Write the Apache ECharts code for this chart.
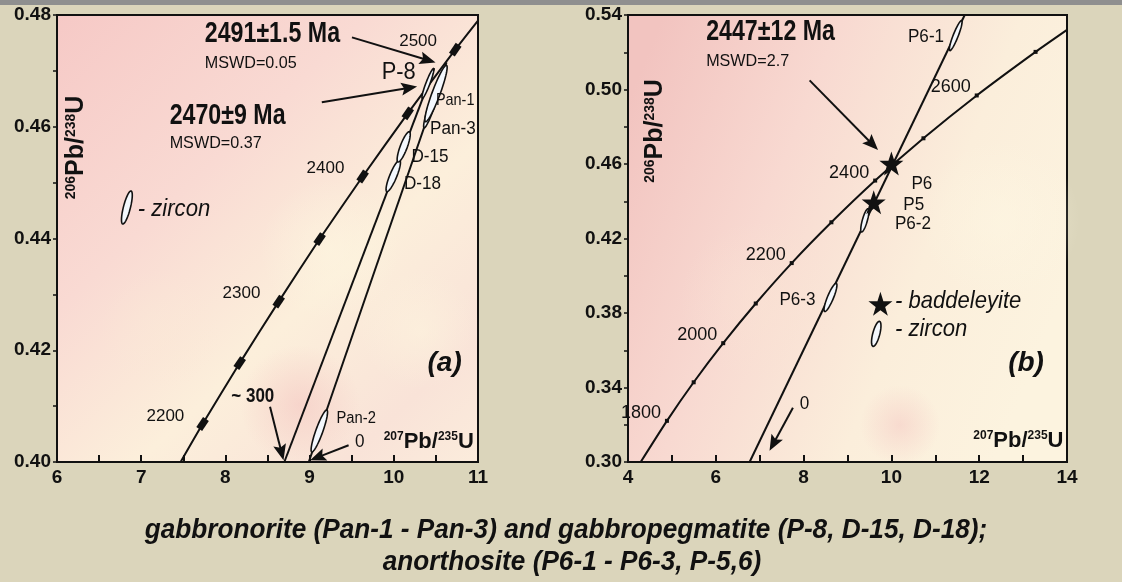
<!DOCTYPE html>
<html>
<head>
<meta charset="utf-8">
<script src="https://cdn.jsdelivr.net/npm/echarts@6/dist/echarts.min.js"></script>
<style>
  html, body { margin: 0; padding: 0; background: #dbd5bb; }
  #chart { width: 1122px; height: 582px; }
</style>
</head>
<body>
<div id="chart"></div>
<script>
// ---------- Panel (a): gabbronorite / gabbropegmatite ----------
// Concordia ticks every 50 Ma (207Pb/235U, 206Pb/238U)
const concAgesA = [2200, 2250, 2300, 2350, 2400, 2450, 2500];
const concXA = [7.729, 8.170, 8.633, 9.119, 9.630, 10.166, 10.730];
const concYA = [0.4068, 0.4177, 0.4287, 0.4399, 0.4511, 0.4624, 0.4738];
const concLabelledA = [2200, 2300, 2400, 2500];
const concEndsA = [[7.468, 0.400], [11.0, 0.479]];
// Discordia chords
const discordia2491 = [[8.99, 0.400], [10.626, 0.4715]];
const discordia2470 = [[8.70, 0.400], [10.48, 0.4705]];
// Zircon error ellipses: long-axis end points [x1, y1, x2, y2]
const zirconNamesA = ['Pan-2', 'D-18', 'D-15', 'Pan-3', 'Pan-1', 'P-8'];
const zirconAxesA = [
  [9.026, 0.4018, 9.205, 0.4093],
  [9.917, 0.4484, 10.070, 0.4540],
  [10.050, 0.4537, 10.185, 0.4591],
  [10.360, 0.4598, 10.550, 0.4682],
  [10.377, 0.4609, 10.626, 0.4710],
  [10.338, 0.4651, 10.472, 0.4704]
];

// ---------- Panel (b): anorthosite ----------
const concAgesB = [1800, 1900, 2000, 2100, 2200, 2300, 2400, 2500, 2600, 2700];
const concXB = [4.887, 5.496, 6.169, 6.910, 7.729, 8.633, 9.630, 10.730, 11.944, 13.284];
const concYB = [0.3221, 0.3428, 0.3638, 0.3851, 0.4068, 0.4287, 0.4511, 0.4738, 0.4968, 0.5202];
const concLabelledB = [1800, 2000, 2200, 2400, 2600];
const concEndsB = [[4.289, 0.300], [14.0, 0.532]];
const discordiaP6 = [[6.77, 0.300], [11.67, 0.540]];
const zirconNamesB = ['P6-3', 'P6-2', 'P6-1'];
const zirconAxesB = [
  [8.479, 0.3808, 8.745, 0.3959],
  [9.320, 0.4235, 9.470, 0.4360],
  [11.330, 0.5209, 11.600, 0.5370]
];
const baddeleyiteNames = ['P5', 'P6'];
const baddeleyiteX = [9.597, 10.000];
const baddeleyiteY = [0.4395, 0.4603];

// ---------- styling ----------
const INK = '#111';
const SANS = '"Liberation Sans", Arial, sans-serif';
const ellipseWidth = { 'Pan-2': 7, 'D-18': 7, 'D-15': 7, 'Pan-3': 6, 'Pan-1': 8, 'P-8': 4,
                       'P6-3': 6, 'P6-2': 5, 'P6-1': 5, key: 7 };
const STAR = 'path://M50,0 L61.8,35.1 L97.6,35.1 L68.8,56.7 L79.4,90.5 L50,69.6 L20.6,90.5 L31.2,56.7 L2.4,35.1 L38.2,35.1 Z';

// sx: horizontal squeeze giving the condensed lettering
const fonts = {
  big:    { font: 'bold 29px ' + SANS, sx: 0.8 },
  mswd:   { font: '17px ' + SANS, sx: 0.95 },
  sample: { font: '18px ' + SANS, sx: 0.95 },
  small:  { font: '16px ' + SANS, sx: 0.92 },
  narrow: { font: '17px ' + SANS, sx: 0.85 },
  p8:     { font: '23px ' + SANS, sx: 0.95 },
  legend: { font: 'italic 24px ' + SANS, sx: 0.92 },
  tilde:  { font: 'bold 20px ' + SANS, sx: 0.85 },
  panel:  { font: 'bold italic 28px ' + SANS, sx: 1 },
  axis:   { font: 'bold 22px ' + SANS, sx: 1,
            rich: { s: { fontSize: 12, fontWeight: 'bold', fontFamily: SANS, verticalAlign: 'top', fill: INK },
                    b: { fontSize: 22, fontWeight: 'bold', fontFamily: SANS, fill: INK } } },
  yaxis:  { font: 'bold 25px ' + SANS, sx: 1,
            rich: { s: { fontSize: 14, fontWeight: 'bold', fontFamily: SANS, verticalAlign: 'top', fill: INK },
                    b: { fontSize: 25, fontWeight: 'bold', fontFamily: SANS, fill: INK } } }
};

const X_TITLE = '{s|207}{b|Pb/}{s|235}{b|U}';
const Y_TITLE = '{s|206}{b|Pb/}{s|238}{b|U}';

const notesA = [
  { t: '2491±1.5 Ma', x: 7.755, y: 0.4766, f: 'big' },
  { t: 'MSWD=0.05', x: 7.755, y: 0.4713, f: 'mswd' },
  { t: '2470±9 Ma', x: 7.338, y: 0.4620, f: 'big' },
  { t: 'MSWD=0.37', x: 7.338, y: 0.4570, f: 'mswd' },
  { t: 'P-8', x: 10.26, y: 0.4697, f: 'p8', align: 'right' },
  { t: 'Pan-1', x: 10.50, y: 0.4647, f: 'narrow' },
  { t: 'Pan-3', x: 10.43, y: 0.4596, f: 'sample' },
  { t: 'D-15', x: 10.21, y: 0.4545, f: 'sample' },
  { t: 'D-18', x: 10.12, y: 0.4497, f: 'sample' },
  { t: '- zircon', x: 6.96, y: 0.4453, f: 'legend' },
  { t: '~ 300', x: 8.07, y: 0.4117, f: 'tilde' },
  { t: 'Pan-2', x: 9.32, y: 0.4078, f: 'small' },
  { t: '0', x: 9.54, y: 0.4035, f: 'sample' },
  { t: '(a)', x: 10.40, y: 0.4177, f: 'panel' },
  { t: X_TITLE, x: 10.95, y: 0.4036, f: 'axis', align: 'right' },
  { t: Y_TITLE, x: 6.23, y: 0.4563, f: 'yaxis', align: 'center', rot: true }
];
const notesB = [
  { t: '2447±12 Ma', x: 5.78, y: 0.5307, f: 'big' },
  { t: 'MSWD=2.7', x: 5.78, y: 0.5152, f: 'mswd' },
  { t: 'P6-1', x: 11.20, y: 0.5281, f: 'sample', align: 'right' },
  { t: 'P6', x: 10.456, y: 0.4493, f: 'sample' },
  { t: 'P5', x: 10.27, y: 0.4381, f: 'sample' },
  { t: 'P6-2', x: 10.08, y: 0.4277, f: 'sample' },
  { t: 'P6-3', x: 7.45, y: 0.3870, f: 'sample' },
  { t: '- baddeleyite', x: 10.08, y: 0.3861, f: 'legend' },
  { t: '- zircon', x: 10.08, y: 0.3710, f: 'legend' },
  { t: '(b)', x: 12.66, y: 0.3532, f: 'panel' },
  { t: '0', x: 7.91, y: 0.3309, f: 'sample' },
  { t: X_TITLE, x: 13.92, y: 0.3113, f: 'axis', align: 'right' },
  { t: Y_TITLE, x: 4.62, y: 0.4777, f: 'yaxis', align: 'center', rot: true }
];
// arrows: [fromX, fromY, tipX, tipY]
const arrowsA = [
  [9.503, 0.4760, 10.496, 0.4715],
  [9.145, 0.4644, 10.277, 0.4672],
  [8.530, 0.4099, 8.690, 0.4003],
  [9.463, 0.4030, 9.006, 0.4003]
];
const arrowsB = [
  [8.137, 0.5049, 9.696, 0.4675],
  [7.757, 0.3291, 7.224, 0.3060]
];

// ---------- renderers ----------
function ellipseRenderer(names) {
  return function (params, api) {
    const a = api.coord([api.value(0), api.value(1)]);
    const b = api.coord([api.value(2), api.value(3)]);
    const cx = (a[0] + b[0]) / 2, cy = (a[1] + b[1]) / 2;
    const dx = b[0] - a[0], dy = b[1] - a[1];
    const semi = Math.hypot(dx, dy) / 2;
    const ux = dx / (2 * semi), uy = dy / (2 * semi);
    const half = ellipseWidth[names[params.dataIndex]] / 2;
    const pts = [];
    for (let k = 0; k < 60; k++) {
      const t = (k / 60) * Math.PI * 2;
      const c = Math.cos(t) * semi, s = Math.sin(t) * half;
      pts.push([cx + c * ux - s * uy, cy + c * uy + s * ux]);
    }
    return { type: 'polygon', shape: { points: pts },
             style: { fill: '#f4f8fd', stroke: INK, lineWidth: 1.6 } };
  };
}

function arrowRenderer(params, api) {
  const p = api.coord([api.value(0), api.value(1)]);
  const q = api.coord([api.value(2), api.value(3)]);
  const L = Math.hypot(q[0] - p[0], q[1] - p[1]);
  const ux = (q[0] - p[0]) / L, uy = (q[1] - p[1]) / L;
  const head = 16, hw = 6.5;
  const bx = q[0] - ux * head, by = q[1] - uy * head;
  return { type: 'group', children: [
    { type: 'line', shape: { x1: p[0], y1: p[1], x2: bx + ux * 4, y2: by + uy * 4 },
      style: { stroke: INK, lineWidth: 2 } },
    { type: 'polygon', shape: { points: [[q[0], q[1]], [bx - uy * hw, by + ux * hw],
                                         [bx + ux * 3, by + uy * 3], [bx + uy * hw, by - ux * hw]] },
      style: { fill: INK } }
  ] };
}

function textRenderer(list) {
  return function (params, api) {
    const it = list[params.dataIndex];
    const p = api.coord([it.x, it.y]);
    const f = fonts[it.f];
    const style = { text: it.t, align: it.align || 'left', verticalAlign: 'middle',
                    fill: INK, font: f.font };
    if (f.rich) style.rich = f.rich;
    return { type: 'text', x: p[0], y: p[1], rotation: it.rot ? Math.PI / 2 : 0,
             scaleX: f.sx, style: style };
  };
}

function concordiaSeries(idx, ends, xs, ys) {
  const pts = [ends[0]].concat(xs.map((x, i) => [x, ys[i]]), [ends[1]]);
  return { type: 'line', xAxisIndex: idx, yAxisIndex: idx, data: pts, showSymbol: false,
           smooth: 0.2, lineStyle: { color: INK, width: 2 }, z: 3 };
}
function chordSeries(idx, pts) {
  return { type: 'line', xAxisIndex: idx, yAxisIndex: idx, data: pts, showSymbol: false,
           lineStyle: { color: INK, width: 2 }, z: 3 };
}
function tickSeries(idx, ages, xs, ys, labelled, size, rotate, dist, fontSize) {
  return { type: 'scatter', xAxisIndex: idx, yAxisIndex: idx, z: 4,
    symbol: 'rect', symbolSize: size, symbolRotate: rotate,
    itemStyle: { color: INK, opacity: 1 },
    data: ages.map((age, i) => ({ value: [xs[i], ys[i], age],
                                  label: { show: labelled.indexOf(age) >= 0 } })),
    label: { position: 'left', distance: dist, offset: [0, -8], color: INK,
             fontFamily: SANS, fontSize: fontSize, formatter: p => String(p.value[2]) } };
}

function xAxisCfg(idx, min, max, interval, showLabel) {
  return { type: 'value', gridIndex: idx, min: min, max: max, interval: interval, z: 3,
    axisLine: { show: true, lineStyle: { color: INK, width: 2 } },
    axisTick: { show: true, inside: true, length: 7, lineStyle: { color: INK, width: 2 } },
    axisLabel: { margin: 6, color: INK, fontFamily: SANS, fontWeight: 'bold', fontSize: 19,
                 formatter: v => showLabel(v) ? String(Math.round(v)) : '' },
    splitLine: { show: false } };
}
function yAxisCfg(idx, min, max, interval, showLabel) {
  return { type: 'value', gridIndex: idx, min: min, max: max, interval: interval, z: 3,
    axisLine: { show: true, lineStyle: { color: INK, width: 2 } },
    axisTick: { show: true, inside: false, length: 4, lineStyle: { color: INK, width: 1.5 } },
    axisLabel: { margin: 6, color: INK, fontFamily: SANS, fontWeight: 'bold', fontSize: 19,
                 formatter: v => showLabel(v) ? v.toFixed(2) : '' },
    splitLine: { show: false } };
}

const bgA = { type: 'linear', x: 0, y: 0, x2: 1, y2: 1, colorStops: [
  { offset: 0, color: '#f6c9c6' }, { offset: 0.35, color: '#f9dad3' },
  { offset: 0.62, color: '#fcefdb' }, { offset: 0.85, color: '#f9e3d8' }, { offset: 1, color: '#fbecdc' } ] };
const bgB = { type: 'linear', x: 0, y: 0.2, x2: 1, y2: 0.6, colorStops: [
  { offset: 0, color: '#f2c4c0' }, { offset: 0.35, color: '#f8d9d1' },
  { offset: 0.7, color: '#fbeedb' }, { offset: 1, color: '#fcf3df' } ] };

// soft mottling inside the plot frames
function blob(cx, cy, rx, ry, rgb, alpha) {
  return { type: 'ellipse', z: 1, silent: true,
    shape: { cx: cx, cy: cy, rx: rx, ry: ry },
    style: { fill: { type: 'radial', x: 0.5, y: 0.5, r: 0.5, colorStops: [
      { offset: 0, color: 'rgba(' + rgb + ',' + alpha + ')' },
      { offset: 1, color: 'rgba(' + rgb + ',0)' } ] } } };
}

const CAPTION_FONT = 'bold italic 27px ' + SANS;

const option = {
  animation: false,
  backgroundColor: '#dbd5bb',
  grid: [
    { left: 57, top: 15, width: 421, height: 447, show: true, backgroundColor: bgA,
      borderColor: INK, borderWidth: 2 },
    { left: 628, top: 15, width: 439, height: 447, show: true, backgroundColor: bgB,
      borderColor: INK, borderWidth: 2 }
  ],
  xAxis: [
    xAxisCfg(0, 6, 11, 0.5, v => Math.abs(v - Math.round(v)) < 1e-6),
    xAxisCfg(1, 4, 14, 1, v => Math.round(v) % 2 === 0)
  ],
  yAxis: [
    yAxisCfg(0, 0.40, 0.48, 0.01, v => Math.round(v * 100) % 2 === 0),
    yAxisCfg(1, 0.30, 0.54, 0.02, v => Math.round(v * 100) % 4 === 2)
  ],
  graphic: [
    blob(300, 405, 95, 60, '244,196,192', 0.55),
    blob(330, 250, 120, 70, '253,246,224', 0.6),
    blob(160, 330, 90, 60, '250,232,214', 0.45),
    blob(420, 330, 60, 110, '253,244,222', 0.55),
    blob(900, 425, 90, 40, '244,198,194', 0.5),
    blob(1000, 220, 80, 120, '253,246,226', 0.6),
    blob(760, 300, 80, 90, '250,228,212', 0.45),
    { type: 'rect', shape: { x: 0, y: 0, width: 1122, height: 5 }, style: { fill: '#8f8f8f' }, z: 10 },
    { type: 'text', x: 566, y: 531, z: 10, scaleX: 0.97,
      style: { text: 'gabbronorite (Pan-1 - Pan-3) and gabbropegmatite (P-8, D-15, D-18);',
               font: CAPTION_FONT, fill: INK, align: 'center', verticalAlign: 'middle' } },
    { type: 'text', x: 572, y: 563, z: 10, scaleX: 0.97,
      style: { text: 'anorthosite (P6-1 - P6-3, P-5,6)',
               font: CAPTION_FONT, fill: INK, align: 'center', verticalAlign: 'middle' } }
  ],
  series: [
    // panel (a)
    concordiaSeries(0, concEndsA, concXA, concYA),
    chordSeries(0, discordia2491),
    chordSeries(0, discordia2470),
    tickSeries(0, concAgesA, concXA, concYA, concLabelledA, [7, 12], -34, 12, 17),
    { type: 'custom', xAxisIndex: 0, yAxisIndex: 0, z: 5,
      renderItem: ellipseRenderer(zirconNamesA), data: zirconAxesA },
    { type: 'custom', xAxisIndex: 0, yAxisIndex: 0, z: 5,
      renderItem: ellipseRenderer(['key']), data: [[6.78, 0.4426, 6.88, 0.4485]] },
    { type: 'custom', xAxisIndex: 0, yAxisIndex: 0, z: 6,
      renderItem: arrowRenderer, data: arrowsA },
    { type: 'custom', xAxisIndex: 0, yAxisIndex: 0, z: 7,
      renderItem: textRenderer(notesA), data: notesA.map(n => [n.x, n.y]) },
    // panel (b)
    concordiaSeries(1, concEndsB, concXB, concYB),
    chordSeries(1, discordiaP6),
    tickSeries(1, concAgesB, concXB, concYB, concLabelledB, 4, 0, 4, 18),
    { type: 'custom', xAxisIndex: 1, yAxisIndex: 1, z: 5,
      renderItem: ellipseRenderer(zirconNamesB), data: zirconAxesB },
    { type: 'custom', xAxisIndex: 1, yAxisIndex: 1, z: 5,
      renderItem: ellipseRenderer(['key']), data: [[9.58, 0.3621, 9.73, 0.3755]] },
    { type: 'scatter', xAxisIndex: 1, yAxisIndex: 1, z: 6, symbol: STAR, symbolSize: 24,
      itemStyle: { color: INK, opacity: 1 },
      data: baddeleyiteNames.map((n, i) => ({ name: n, value: [baddeleyiteX[i], baddeleyiteY[i]] })) },
    { type: 'scatter', xAxisIndex: 1, yAxisIndex: 1, z: 6, symbol: STAR, symbolSize: 24,
      itemStyle: { color: INK, opacity: 1 }, data: [[9.75, 0.3849]] },
    { type: 'custom', xAxisIndex: 1, yAxisIndex: 1, z: 6,
      renderItem: arrowRenderer, data: arrowsB },
    { type: 'custom', xAxisIndex: 1, yAxisIndex: 1, z: 7,
      renderItem: textRenderer(notesB), data: notesB.map(n => [n.x, n.y]) }
  ]
};

const chart = echarts.init(document.getElementById('chart'));
chart.setOption(option);
</script>
</body>
</html>
